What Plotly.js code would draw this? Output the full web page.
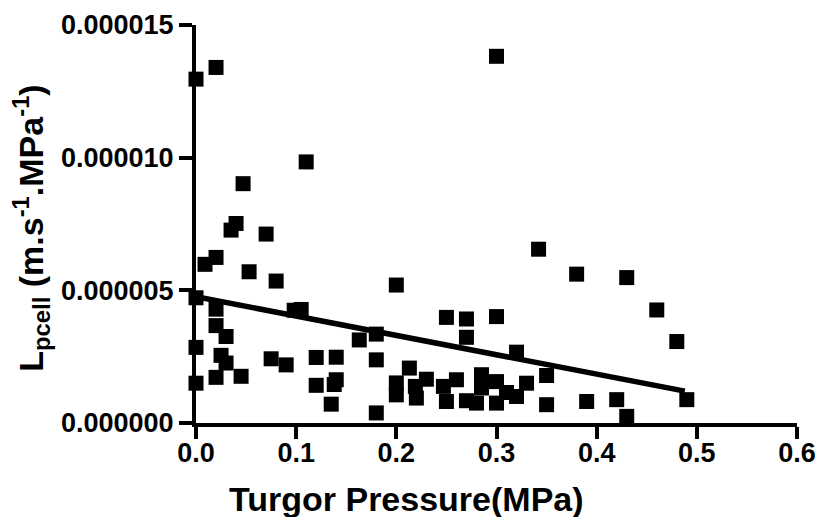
<!DOCTYPE html>
<html>
<head>
<meta charset="utf-8">
<script src="https://cdn.plot.ly/plotly-3.0.1.min.js"></script>
<style>html,body{margin:0;padding:0;background:#fff;}#chart{width:818px;height:517px;}</style>
</head>
<body>
<div id="chart"></div>
<script>
// Turgor pressure (MPa)
var pressure = [0.000, 0.020, 0.300, 0.110, 0.047, 0.040, 0.035, 0.070, 0.020, 0.009,
                0.053, 0.080, 0.000, 0.098, 0.105, 0.020, 0.020, 0.030, 0.000, 0.025,
                0.030, 0.075, 0.090, 0.020, 0.045, 0.000, 0.163, 0.180, 0.200, 0.120,
                0.140, 0.180, 0.120, 0.140, 0.138, 0.135, 0.180, 0.250, 0.270, 0.300,
                0.270, 0.213, 0.200, 0.200, 0.219, 0.220, 0.230, 0.247, 0.260, 0.250,
                0.270, 0.280, 0.285, 0.285, 0.300, 0.300, 0.342, 0.380, 0.320, 0.350,
                0.330, 0.310, 0.320, 0.350, 0.390, 0.420, 0.430, 0.430, 0.460, 0.480,
                0.490];
// Lpcell (m.s-1.MPa-1)
var lpcell = [12.96e-6, 13.40e-6, 13.82e-6, 9.84e-6, 9.02e-6, 7.52e-6, 7.27e-6, 7.12e-6, 6.24e-6, 5.98e-6,
              5.70e-6, 5.35e-6, 4.72e-6, 4.25e-6, 4.28e-6, 4.29e-6, 3.67e-6, 3.26e-6, 2.85e-6, 2.55e-6,
              2.26e-6, 2.42e-6, 2.19e-6, 1.72e-6, 1.76e-6, 1.50e-6, 3.13e-6, 3.35e-6, 5.20e-6, 2.47e-6,
              2.48e-6, 2.38e-6, 1.42e-6, 1.63e-6, 1.45e-6, 0.71e-6, 0.38e-6, 3.98e-6, 3.92e-6, 4.01e-6,
              3.23e-6, 2.07e-6, 1.51e-6, 1.06e-6, 1.38e-6, 0.94e-6, 1.65e-6, 1.38e-6, 1.63e-6, 0.81e-6,
              0.84e-6, 0.75e-6, 1.82e-6, 1.32e-6, 1.56e-6, 0.75e-6, 6.55e-6, 5.61e-6, 2.67e-6, 1.79e-6,
              1.50e-6, 1.15e-6, 1.00e-6, 0.69e-6, 0.81e-6, 0.88e-6, 0.25e-6, 5.48e-6, 4.26e-6, 3.07e-6,
              0.88e-6];
// Linear fit end points
var fitX = [0.0, 0.488];
var fitY = [4.76e-6, 1.20e-6];

var xTickVals = [0, 0.1, 0.2, 0.3, 0.4, 0.5, 0.6];
var yTickVals = [0, 5e-6, 10e-6, 15e-6];

var FONT = 'Liberation Sans, Arial, sans-serif';

var traces = [
  {x: pressure, y: lpcell, type: 'scatter', mode: 'markers', cliponaxis: false,
   marker: {symbol: 'square', size: 15, color: '#000000', line: {width: 0}}, hoverinfo: 'x+y'},
  {x: fitX, y: fitY, type: 'scatter', mode: 'lines', cliponaxis: false,
   line: {color: '#000000', width: 5.5}}
];

var layout = {
  width: 818, height: 517,
  margin: {l: 196, r: 21, t: 25, b: 94},
  paper_bgcolor: '#ffffff', plot_bgcolor: '#ffffff',
  showlegend: false,
  font: {family: FONT, color: '#000000'},
  xaxis: {
    range: [0, 0.6], tickvals: xTickVals, tickformat: '.1f',
    showgrid: false, zeroline: false,
    showline: true, linewidth: 4, linecolor: '#000000',
    ticks: 'outside', ticklen: 12, tickwidth: 4, tickcolor: '#000000',
    ticklabelstandoff: -9,
    tickfont: {family: FONT, size: 27, weight: 'bold', color: '#000000'}
  },
  yaxis: {
    range: [0, 15e-6], tickvals: yTickVals, tickformat: '.6f',
    showgrid: false, zeroline: false,
    showline: true, linewidth: 4, linecolor: '#000000',
    ticks: 'outside', ticklen: 13, tickwidth: 4, tickcolor: '#000000',
    tickfont: {family: FONT, size: 27, weight: 'bold', color: '#000000'}
  },
  annotations: [
    {text: 'Turgor Pressure(MPa)', xref: 'paper', yref: 'paper', x: 0.351, y: -0.244,
     xanchor: 'center', yanchor: 'bottom', showarrow: false,
     font: {family: FONT, size: 34, weight: 'bold', color: '#000000'}},
    {text: 'L<sub>pcell</sub> (m.s<sup>-1</sup>.MPa<sup>-1</sup>)', xref: 'paper', yref: 'paper',
     x: -0.275, y: 0.49, xanchor: 'center', yanchor: 'middle', textangle: -90, showarrow: false,
     font: {family: FONT, size: 34, weight: 'bold', color: '#000000'}}
  ]
};

Plotly.newPlot('chart', traces, layout, {staticPlot: true, displayModeBar: false});
</script>
</body>
</html>
